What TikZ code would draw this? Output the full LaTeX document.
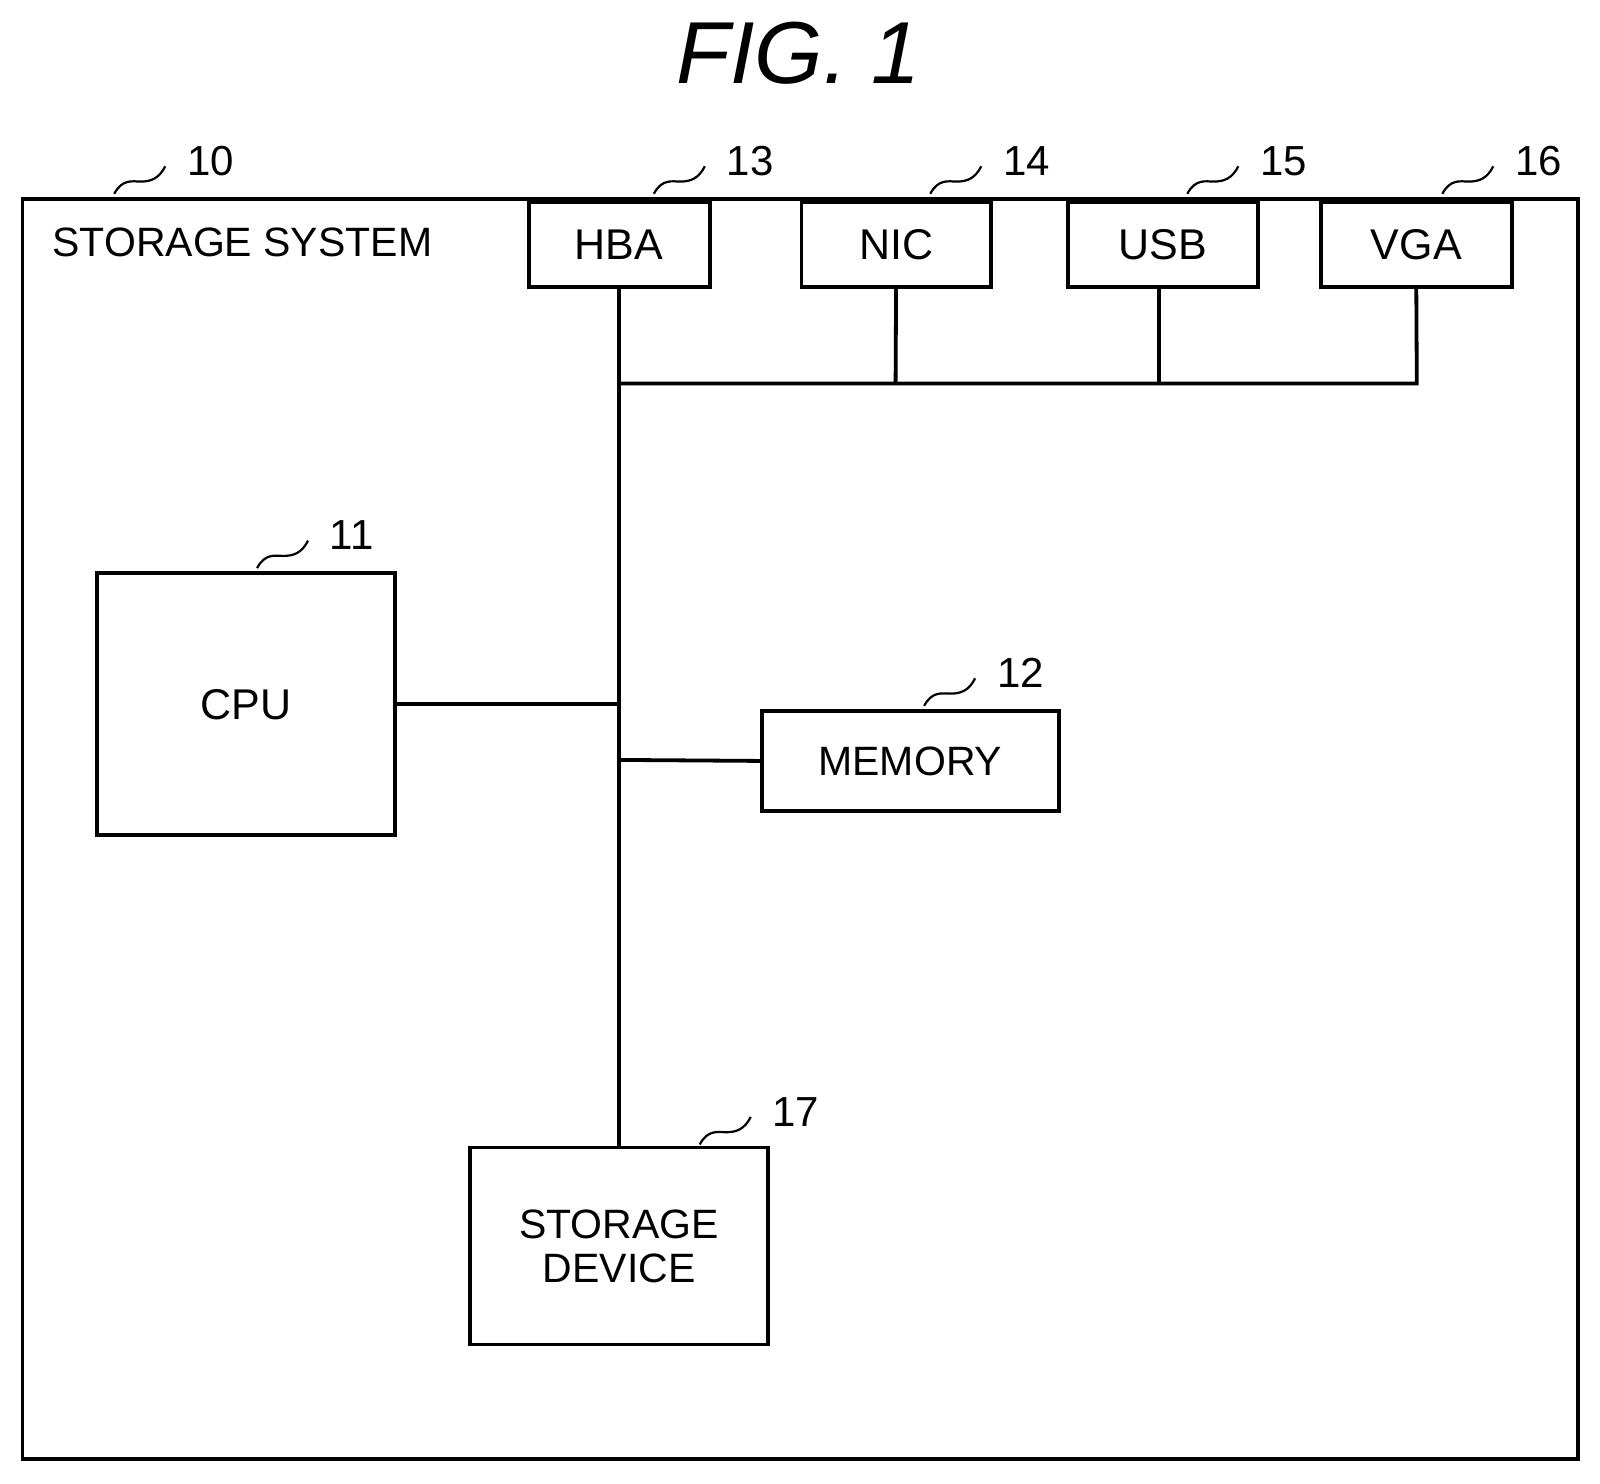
\documentclass[tikz,border=0pt]{standalone}
\usepackage{fontspec}
\setmainfont{Liberation Sans}
\begin{document}
\begin{tikzpicture}[x=1.02pt,y=-1.02pt,
  box/.style={draw,line width=3.8pt,inner sep=0pt},
  lab/.style={font=\fontsize{43}{47}\selectfont},
  num/.style={font=\fontsize{42}{46}\selectfont,anchor=west},
  wire/.style={line width=3.8pt},
  sq/.style={line width=2.2pt}]
\useasboundingbox (0,0) rectangle (1568.6,1453.9);
\node[font=\fontsize{88}{96}\selectfont\itshape] (title) at (783,52) {FIG. 1};
\draw[box] (22,195) rectangle (1547,1430);
\node[lab,anchor=west,font=\fontsize{41}{46}\selectfont] (sys) at (48,238) {STORAGE SYSTEM};
\node[box,lab,minimum width=181pt,minimum height=85pt] (hba) at (607,239.5) {HBA};
\node[box,lab,minimum width=189pt,minimum height=85pt] (nic) at (878.5,239.5) {NIC};
\node[box,lab,minimum width=190pt,minimum height=85pt] (usb) at (1140,239.5) {USB};
\node[box,lab,minimum width=191pt,minimum height=85pt] (vga) at (1388.5,239.5) {VGA};
\node[box,lab,minimum width=298pt,minimum height=262pt] (cpu) at (241,690.5) {CPU};
\node[box,lab,minimum width=297pt,minimum height=100pt,font=\fontsize{41}{46}\selectfont] (mem) at (892.5,746) {MEMORY};
\node[box,lab,minimum width=298pt,minimum height=197pt,align=center,font=\fontsize{41}{44}\selectfont] (sd) at (607,1221.5) {STORAGE\\DEVICE};
\coordinate (b1) at (607,376);
\coordinate (b2) at (878,376);
\coordinate (b3) at (1136,376);
\coordinate (b4) at (1389,376);
\coordinate (c1) at (607,690);
\coordinate (m1) at (607,745);
\draw[wire] (hba.south) -- (sd.north);
\draw[wire] (b1) -- (b4) -- (vga.south);
\draw[wire] (nic.south) -- (b2);
\draw[wire] (b3) -- (b3 |- usb.south);
\draw[wire] (cpu.east |- c1) -- (c1);
\draw[wire] (m1) -- (mem.west);
\foreach \x/\y/\n in {112/190/10,641/190/13,912/190/14,1164/190/15,1414/190/16,252/557/11,906/692/12,686/1122/17}{
  \draw[sq] (\x,\y) .. controls (\x+8,\y-15) and (\x+18,\y-12) .. (\x+26,\y-12) .. controls (\x+36,\y-12) and (\x+44,\y-15) .. (\x+50,\y-27);
  \node[num] at (\x+68,\y-32) {\n};
}
\end{tikzpicture}
\end{document}
